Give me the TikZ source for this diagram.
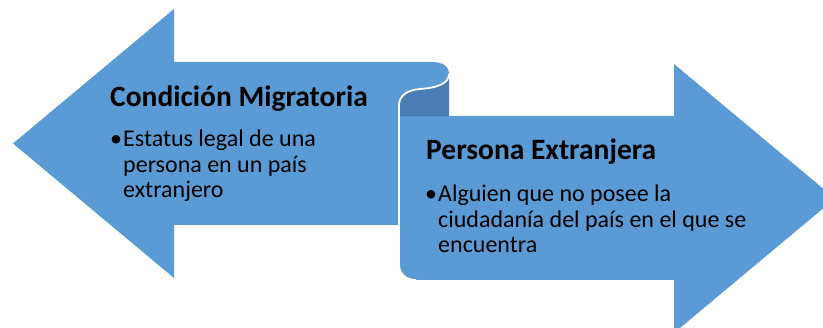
\documentclass[tikz,border=0pt]{standalone}
\usepackage{fontspec}
\setmainfont{Carlito}
\definecolor{lightblue}{HTML}{5B9BD5}
\definecolor{darkblue}{HTML}{4A7DB3}
\begin{document}
\begin{tikzpicture}[x=1pt,y=-1pt,
  shapefill/.style={fill=lightblue,draw=none},
  backfill/.style={fill=darkblue,draw=none},
  edgeline/.style={draw=white,line width=1.8pt},
  titletext/.style={anchor=base west,inner sep=0pt,font=\fontsize{29.5}{32}\selectfont\bfseries},
  bullettext/.style={anchor=base west,inner sep=0pt,font=\fontsize{24}{25.5}\selectfont}]
\useasboundingbox (0,0) rectangle (823,328);
\begin{scope}
\clip (0,0) rectangle (823,328);
% left arrow
\path[shapefill] (13,143.5) -- (174,9) -- (174,62) -- (432,62)
  .. controls (442,62) and (449,66) .. (449,74)
  .. controls (449,84) and (436,88) .. (420,89)
  .. controls (407,90) and (399,96) .. (399,105)
  -- (399,225) -- (174,225) -- (174,278) -- cycle;
% right arrow (front)
\path[shapefill] (399,116) -- (674,116) -- (674,64) -- (835,198.5) -- (674,333) -- (674,280)
  -- (416,280) .. controls (406,280) and (399,274) .. (399,264) -- cycle;
% back of scroll
\path[backfill] (449,74)
  .. controls (449,84) and (436,88) .. (420,89)
  .. controls (407,90) and (399,96) .. (399,105)
  -- (399,116.5) -- (449,116.5) -- cycle;
% white outline of the curl
\path[edgeline] (449,74)
  .. controls (449,84) and (436,88) .. (420,89)
  .. controls (407,90) and (399,96) .. (399,105)
  -- (399,264) .. controls (399,274) and (406,280) .. (416,280);
\end{scope}
\node[titletext] (t1) at (110,107) {Condición Migratoria};
\node[bullettext] (b1) at (110,147) {\begin{tabular}[t]{@{}l@{}}\makebox[13pt][l]{•}Estatus legal de una\\\hspace*{13pt}persona en un país\\\hspace*{13pt}extranjero\end{tabular}};
\node[titletext] (t2) at (426,160) {Persona Extranjera};
\node[bullettext] (b2) at (425,202) {\begin{tabular}[t]{@{}l@{}}\makebox[13pt][l]{•}Alguien que no posee la\\\hspace*{13pt}ciudadanía del país en el que se\\\hspace*{13pt}encuentra\end{tabular}};
\end{tikzpicture}
\end{document}
